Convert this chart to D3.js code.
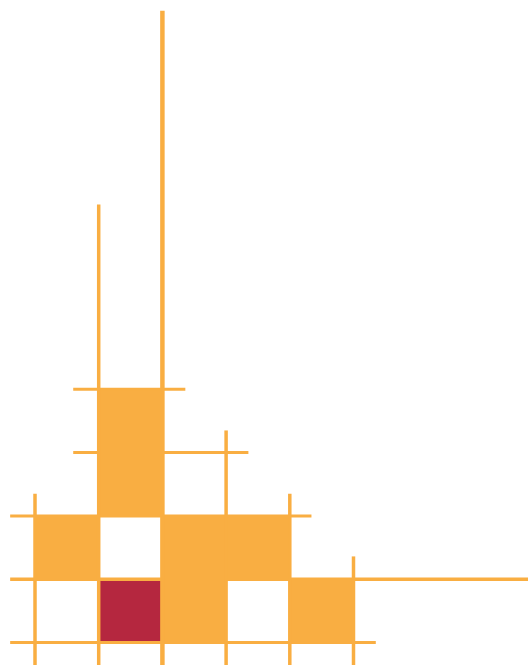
<!DOCTYPE html>
<html>
<head>
<meta charset="utf-8">
<script src="https://cdn.jsdelivr.net/npm/d3@7"></script>
<style>
  body { margin: 0; background: #fff; }
</style>
</head>
<body>
<div id="chart"></div>
<script>
var svgWidth = 528;
var svgHeight = 665;

// grid cells (column, row counted from the bottom) and their group
var cellCol = [1, 2, 4, 0, 2, 3, 1, 1];
var cellRow = [0, 0, 0, 1, 1, 1, 2, 3];
var cellGroup = ["highlight", "base", "base", "base", "base", "base", "base", "base"];

// vertical grid lines: column position, top end and bottom end (row units)
var vLineCol = [0, 1, 2, 3, 4, 5];
var vLineTop = [2.35, 6.92, 9.98, 3.35, 2.35, 1.36];
var vLineBottom = [-0.4, -0.4, -0.4, -0.4, -0.4, -0.4];

// horizontal grid lines: row position, left end and right end (column units)
var hLineRow = [0, 1, 2, 3, 4];
var hLineLeft = [-0.39, -0.39, -0.39, 0.6, 0.6];
var hLineRight = [5.35, 7.74, 4.34, 3.35, 2.36];

var colors = { base: "#f9ae42", highlight: "#b5273f" };
var lineColor = "#f9ae42";

var x = d3.scaleLinear().domain([0, 5]).range([35, 353.5]);
var y = d3.scaleLinear().domain([0, 4]).range([642.5, 389.3]);

var svg = d3.select("#chart")
  .append("svg")
  .attr("width", svgWidth)
  .attr("height", svgHeight);

var cells = cellCol.map(function(c, i) {
  return { col: c, row: cellRow[i], group: cellGroup[i] };
});

// cells
svg.append("g")
  .selectAll("rect")
  .data(cells)
  .enter()
  .append("rect")
  .attr("x", function(d) { return x(d.col); })
  .attr("y", function(d) { return y(d.row + 1); })
  .attr("width", function(d) { return x(d.col + 1) - x(d.col); })
  .attr("height", function(d) { return y(d.row) - y(d.row + 1); })
  .attr("fill", function(d) { return colors[d.group]; });

// horizontal lines
svg.append("g")
  .selectAll("line")
  .data(hLineRow)
  .enter()
  .append("line")
  .attr("x1", function(d, i) { return x(hLineLeft[i]); })
  .attr("x2", function(d, i) { return x(hLineRight[i]); })
  .attr("y1", function(d) { return y(d); })
  .attr("y2", function(d) { return y(d); })
  .attr("stroke", lineColor)
  .attr("stroke-width", function(d) { return d === 1 ? 3.5 : 3; });

// vertical lines
svg.append("g")
  .selectAll("line")
  .data(vLineCol)
  .enter()
  .append("line")
  .attr("x1", function(d) { return x(d); })
  .attr("x2", function(d) { return x(d); })
  .attr("y1", function(d, i) { return y(vLineTop[i]); })
  .attr("y2", function(d, i) { return y(vLineBottom[i]); })
  .attr("stroke", lineColor)
  .attr("stroke-width", function(d) { return d === 2 ? 4.5 : 3.5; });
</script>
</body>
</html>
